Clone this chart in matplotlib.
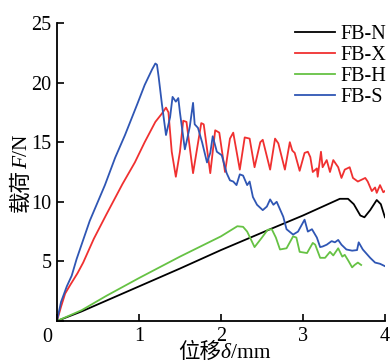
import matplotlib
matplotlib.use("Agg")
import matplotlib.pyplot as plt
from matplotlib.transforms import IdentityTransform

# ---- data ----
n_x = [0, 0.3, 1.0, 1.5, 2.0, 2.6, 3.0, 3.45, 3.55, 3.62, 3.7, 3.75, 3.82, 3.9, 3.95, 4.0]
n_y = [0, 0.8, 2.9, 4.4, 5.95, 7.7, 8.85, 10.25, 10.25, 9.8, 8.85, 8.7, 9.3, 10.15, 9.8, 8.7]

x_x = [0, 0.05, 0.1, 0.16, 0.25, 0.32, 0.45, 0.6, 0.8, 0.95, 1.07, 1.2, 1.28, 1.33, 1.36,
       1.40, 1.45, 1.5, 1.54, 1.58, 1.66, 1.76, 1.79, 1.87, 1.93, 1.98, 2.05, 2.11, 2.15,
       2.23, 2.29, 2.35, 2.41, 2.48, 2.51, 2.60, 2.66, 2.70, 2.78, 2.84, 2.87, 2.90, 2.96,
       3.02, 3.06, 3.09, 3.12, 3.17, 3.18, 3.22, 3.24, 3.29, 3.33, 3.37, 3.43, 3.47, 3.51,
       3.57, 3.61, 3.67, 3.76, 3.79, 3.84, 3.88, 3.90, 3.94, 3.98, 4.0]
x_y = [0, 1.2, 2.3, 3.0, 4.0, 4.9, 6.9, 8.9, 11.5, 13.3, 15.0, 16.7, 17.4, 17.9, 17.5,
       14.2, 12.1, 14.2, 16.8, 16.7, 12.4, 16.6, 16.5, 12.4, 16.0, 15.8, 12.5, 15.3, 15.8,
       12.7, 15.4, 15.3, 12.9, 15.0, 15.2, 12.7, 15.3, 14.9, 12.7, 15.0, 14.3, 14.1, 12.6,
       14.1, 14.2, 13.75, 12.5, 12.8, 12.1, 14.2, 12.9, 13.5, 12.5, 13.5, 12.9, 12.0, 12.7,
       12.9, 12.0, 11.7, 12.0, 11.7, 10.9, 11.2, 10.75, 11.4, 10.8, 10.9]

h_x = [0, 0.3, 0.6, 1.0, 1.5, 2.0, 2.2, 2.27, 2.32, 2.41, 2.5, 2.57, 2.62, 2.67, 2.72,
       2.80, 2.88, 2.92, 2.96, 3.05, 3.12, 3.15, 3.21, 3.27, 3.33, 3.37, 3.43, 3.48, 3.51,
       3.55, 3.60, 3.63, 3.67, 3.71]
h_y = [0, 0.9, 2.1, 3.6, 5.4, 7.1, 7.95, 7.9, 7.5, 6.2, 7.0, 7.65, 7.7, 7.0, 6.0,
       6.1, 7.1, 7.0, 5.8, 5.7, 6.55, 6.4, 5.3, 5.3, 5.8, 5.5, 6.1, 5.4, 5.55,
       5.1, 4.5, 4.7, 4.9, 4.7]

s_x = [0, 0.05, 0.12, 0.18, 0.24, 0.4, 0.585, 0.71, 0.83, 0.98, 1.07, 1.16, 1.2, 1.22,
       1.24, 1.28, 1.33, 1.38, 1.41, 1.45, 1.48, 1.5, 1.56, 1.58, 1.62, 1.66, 1.68, 1.72,
       1.77, 1.83, 1.87, 1.90, 1.95, 2.01, 2.07, 2.11, 2.15, 2.19, 2.23, 2.27, 2.32, 2.35,
       2.39, 2.44, 2.51, 2.56, 2.60, 2.64, 2.68, 2.76, 2.80, 2.88, 2.94, 3.02, 3.06, 3.11,
       3.17, 3.21, 3.24, 3.29, 3.35, 3.39, 3.43, 3.47, 3.53, 3.60, 3.66, 3.68, 3.73, 3.82,
       3.88, 3.94, 4.0]
s_y = [0, 1.6, 2.9, 3.8, 5.2, 8.4, 11.4, 13.7, 15.6, 18.2, 19.8, 21.1, 21.6, 21.5,
       20.5, 18.2, 15.6, 17.1, 18.8, 18.4, 18.7, 17.5, 14.4, 15.0, 16.3, 18.3, 16.5, 16.2,
       15.0, 13.3, 14.1, 15.5, 14.2, 13.9, 12.4, 11.8, 11.7, 11.4, 12.3, 12.2, 11.4, 11.7,
       10.4, 9.75, 9.3, 9.6, 10.2, 9.75, 10.0, 8.75, 7.7, 7.25, 7.5, 8.5, 7.5, 7.7,
       7.0, 6.2, 6.25, 6.4, 6.7, 6.6, 6.8, 6.4, 6.0, 5.9, 5.95, 6.6, 6.0, 5.3,
       4.9, 4.8, 4.6]

labels = ["FB-N", "FB-X", "FB-H", "FB-S"]
colors = ["#000000", "#f03030", "#66c244", "#2f56b4"]

x_ticks = [1, 2, 3, 4]
y_ticks = [5, 10, 15, 20, 25]

# axis label pieces: (text, italic)
xlabel_parts = [("位移", False), ("δ", True), ("/mm", False)]
ylabel_parts = [("载荷", False), ("F", True), ("/N", False)]

# ---- style ----
FAM = ['Liberation Serif', 'Noto Sans CJK SC']
plt.rcParams['font.family'] = FAM

fig = plt.figure(figsize=(3.9, 3.63), dpi=100)
ax = fig.add_axes([0.146, 0.1157, 0.841, 0.821])

series = [(n_x, n_y), (x_x, x_y), (h_x, h_y), (s_x, s_y)]
for (xs, ys), lab, c in zip(series, labels, colors):
    ax.plot(xs, ys, color=c, lw=1.3, label=lab)

ax.set_xlim(0, 4)
ax.set_ylim(0, 25)
ax.set_xticks([0] + x_ticks)
ax.set_xticklabels([""] + [str(t) for t in x_ticks])
ax.set_yticks([0] + y_ticks)
ax.set_yticklabels([""] + [str(t) for t in y_ticks])
ax.tick_params(direction='in', length=5, width=1.2, labelsize=14.5, pad=4)
ax.annotate("0", xy=(0, 0), xycoords='axes fraction', xytext=(-10, -16),
            textcoords='offset pixels', ha='center', va='center', fontsize=14.5)

for sp in ['top', 'right']:
    ax.spines[sp].set_visible(False)
for sp in ['left', 'bottom']:
    ax.spines[sp].set_linewidth(1.3)

ax.legend(loc='upper left', bbox_to_anchor=(0.726, 0.995), frameon=False,
          fontsize=14.5, handlelength=2.0, handletextpad=0.25, labelspacing=0.1,
          borderpad=0, borderaxespad=0)

# ---- composed axis labels (mixed CJK + italic latin) ----
H = 363
renderer = fig.canvas.get_renderer()


def compose(parts, cx, cy, vertical, size=15.5):
    texts = []
    widths = []
    for s, it in parts:
        t = fig.text(0, 0, s, fontsize=size, family=FAM,
                     style='italic' if it else 'normal',
                     transform=IdentityTransform(), ha='left', va='baseline',
                     rotation_mode='anchor')
        widths.append(t.get_window_extent(renderer).width)
        texts.append(t)
    total = sum(widths)
    pos = -total / 2.0
    for t, w in zip(texts, widths):
        if vertical:
            t.set_rotation(90)
            t.set_position((cx, cy + pos))
        else:
            t.set_position((cx + pos, cy))
        pos += w


# pixel coords in figure (origin bottom-left)
compose(xlabel_parts, 224, H - 358, vertical=False)
compose(ylabel_parts, 27, H - 173, vertical=True)

fig.savefig("out.png", dpi=100)
